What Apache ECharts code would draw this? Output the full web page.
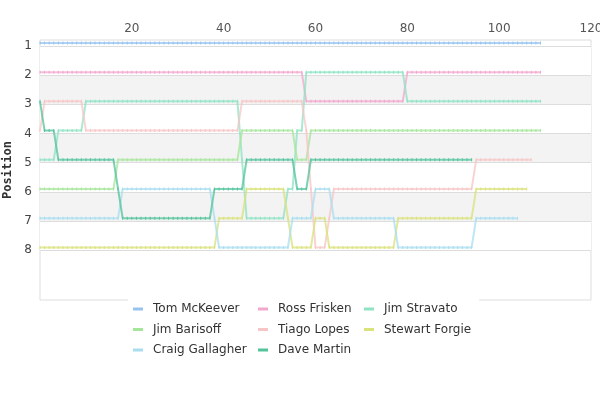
<!DOCTYPE html>
<html>
<head>
<meta charset="utf-8">
<title>Lap chart</title>
<script src="https://cdn.jsdelivr.net/npm/echarts@6/dist/echarts.min.js"></script>
<style>
    html, body { margin: 0; padding: 0; background: #fff; }
    #main { width: 600px; height: 400px; }
</style>
</head>
<body>
<div id="main"></div>
<script>
// drivers in legend order (row by row)
var drivers = ['Tom McKeever', 'Ross Frisken', 'Jim Stravato', 'Jim Barisoff', 'Tiago Lopes', 'Stewart Forgie', 'Craig Gallagher', 'Dave Martin'];
var positionTicks = [1, 2, 3, 4, 5, 6, 7, 8];
var lapTicks = [0, 20, 40, 60, 80, 100, 120];

// race position per lap, index = lap number (from lap 0)
var tomMcKeever = [
    1, 1, 1, 1, 1, 1, 1, 1, 1, 1,
    1, 1, 1, 1, 1, 1, 1, 1, 1, 1,
    1, 1, 1, 1, 1, 1, 1, 1, 1, 1,
    1, 1, 1, 1, 1, 1, 1, 1, 1, 1,
    1, 1, 1, 1, 1, 1, 1, 1, 1, 1,
    1, 1, 1, 1, 1, 1, 1, 1, 1, 1,
    1, 1, 1, 1, 1, 1, 1, 1, 1, 1,
    1, 1, 1, 1, 1, 1, 1, 1, 1, 1,
    1, 1, 1, 1, 1, 1, 1, 1, 1, 1,
    1, 1, 1, 1, 1, 1, 1, 1, 1, 1,
    1, 1, 1, 1, 1, 1, 1, 1, 1, 1
];
var rossFrisken = [
    2, 2, 2, 2, 2, 2, 2, 2, 2, 2,
    2, 2, 2, 2, 2, 2, 2, 2, 2, 2,
    2, 2, 2, 2, 2, 2, 2, 2, 2, 2,
    2, 2, 2, 2, 2, 2, 2, 2, 2, 2,
    2, 2, 2, 2, 2, 2, 2, 2, 2, 2,
    2, 2, 2, 2, 2, 2, 2, 2, 3, 3,
    3, 3, 3, 3, 3, 3, 3, 3, 3, 3,
    3, 3, 3, 3, 3, 3, 3, 3, 3, 3,
    2, 2, 2, 2, 2, 2, 2, 2, 2, 2,
    2, 2, 2, 2, 2, 2, 2, 2, 2, 2,
    2, 2, 2, 2, 2, 2, 2, 2, 2, 2
];
var jimStravato = [
    5, 5, 5, 5, 4, 4, 4, 4, 4, 4,
    3, 3, 3, 3, 3, 3, 3, 3, 3, 3,
    3, 3, 3, 3, 3, 3, 3, 3, 3, 3,
    3, 3, 3, 3, 3, 3, 3, 3, 3, 3,
    3, 3, 3, 3, 5, 7, 7, 7, 7, 7,
    7, 7, 7, 7, 6, 6, 4, 4, 2, 2,
    2, 2, 2, 2, 2, 2, 2, 2, 2, 2,
    2, 2, 2, 2, 2, 2, 2, 2, 2, 2,
    3, 3, 3, 3, 3, 3, 3, 3, 3, 3,
    3, 3, 3, 3, 3, 3, 3, 3, 3, 3,
    3, 3, 3, 3, 3, 3, 3, 3, 3, 3
];
var jimBarisoff = [
    6, 6, 6, 6, 6, 6, 6, 6, 6, 6,
    6, 6, 6, 6, 6, 6, 6, 5, 5, 5,
    5, 5, 5, 5, 5, 5, 5, 5, 5, 5,
    5, 5, 5, 5, 5, 5, 5, 5, 5, 5,
    5, 5, 5, 5, 4, 4, 4, 4, 4, 4,
    4, 4, 4, 4, 4, 4, 5, 5, 5, 4,
    4, 4, 4, 4, 4, 4, 4, 4, 4, 4,
    4, 4, 4, 4, 4, 4, 4, 4, 4, 4,
    4, 4, 4, 4, 4, 4, 4, 4, 4, 4,
    4, 4, 4, 4, 4, 4, 4, 4, 4, 4,
    4, 4, 4, 4, 4, 4, 4, 4, 4, 4
];
var tiagoLopes = [
    4, 3, 3, 3, 3, 3, 3, 3, 3, 3,
    4, 4, 4, 4, 4, 4, 4, 4, 4, 4,
    4, 4, 4, 4, 4, 4, 4, 4, 4, 4,
    4, 4, 4, 4, 4, 4, 4, 4, 4, 4,
    4, 4, 4, 4, 3, 3, 3, 3, 3, 3,
    3, 3, 3, 3, 3, 3, 3, 3, 4, 6,
    8, 8, 8, 7, 6, 6, 6, 6, 6, 6,
    6, 6, 6, 6, 6, 6, 6, 6, 6, 6,
    6, 6, 6, 6, 6, 6, 6, 6, 6, 6,
    6, 6, 6, 6, 6, 5, 5, 5, 5, 5,
    5, 5, 5, 5, 5, 5, 5, 5
];
var stewartForgie = [
    8, 8, 8, 8, 8, 8, 8, 8, 8, 8,
    8, 8, 8, 8, 8, 8, 8, 8, 8, 8,
    8, 8, 8, 8, 8, 8, 8, 8, 8, 8,
    8, 8, 8, 8, 8, 8, 8, 8, 8, 7,
    7, 7, 7, 7, 7, 6, 6, 6, 6, 6,
    6, 6, 6, 6, 7, 8, 8, 8, 8, 8,
    7, 7, 7, 8, 8, 8, 8, 8, 8, 8,
    8, 8, 8, 8, 8, 8, 8, 8, 7, 7,
    7, 7, 7, 7, 7, 7, 7, 7, 7, 7,
    7, 7, 7, 7, 7, 6, 6, 6, 6, 6,
    6, 6, 6, 6, 6, 6, 6
];
var craigGallagher = [
    7, 7, 7, 7, 7, 7, 7, 7, 7, 7,
    7, 7, 7, 7, 7, 7, 7, 7, 6, 6,
    6, 6, 6, 6, 6, 6, 6, 6, 6, 6,
    6, 6, 6, 6, 6, 6, 6, 6, 7, 8,
    8, 8, 8, 8, 8, 8, 8, 8, 8, 8,
    8, 8, 8, 8, 8, 7, 7, 7, 7, 7,
    6, 6, 6, 6, 7, 7, 7, 7, 7, 7,
    7, 7, 7, 7, 7, 7, 7, 7, 8, 8,
    8, 8, 8, 8, 8, 8, 8, 8, 8, 8,
    8, 8, 8, 8, 8, 7, 7, 7, 7, 7,
    7, 7, 7, 7, 7
];
var daveMartin = [
    3, 4, 4, 4, 5, 5, 5, 5, 5, 5,
    5, 5, 5, 5, 5, 5, 5, 6, 7, 7,
    7, 7, 7, 7, 7, 7, 7, 7, 7, 7,
    7, 7, 7, 7, 7, 7, 7, 7, 6, 6,
    6, 6, 6, 6, 6, 5, 5, 5, 5, 5,
    5, 5, 5, 5, 5, 5, 6, 6, 6, 5,
    5, 5, 5, 5, 5, 5, 5, 5, 5, 5,
    5, 5, 5, 5, 5, 5, 5, 5, 5, 5,
    5, 5, 5, 5, 5, 5, 5, 5, 5, 5,
    5, 5, 5, 5, 5
];

var lapChart = (function () {
    var o = {
        init: function () {
            this.positions = [tomMcKeever, rossFrisken, jimStravato, jimBarisoff, tiagoLopes, stewartForgie, craigGallagher, daveMartin];
            this.colors = ['#96c3f0', '#f2a7cd', '#8fe3c3', '#a6e69b', '#f7c5c5', '#d9e27b', '#a9ddf0', '#52c39b'];
            this.draw(document.getElementById('main'));
        },
        getSeries: function () {
            var self = this;
            return drivers.map(function (name, i) {
                return {
                    name: name,
                    type: 'line',
                    yAxisIndex: 1,
                    data: self.positions[i].map(function (pos, lap) {
                        return [lap, pos];
                    }),
                    symbol: 'rect',
                    symbolSize: [1, 3],
                    itemStyle: { color: self.colors[i] },
                    lineStyle: { color: self.colors[i], width: 2, opacity: 0.75 },
                    emphasis: { disabled: true }
                };
            });
        },
        getLegends: function () {
            // one vertical legend per column, backgrounds butting up against each other
            var lefts = [128, 253, 359];
            var rightPads = [11, 11, 8];
            return lefts.map(function (left, col) {
                return {
                    orient: 'vertical',
                    left: left,
                    top: 298,
                    padding: [5, rightPads[col], 5, 5],
                    backgroundColor: '#ffffff',
                    icon: 'rect',
                    itemWidth: 10,
                    itemHeight: 3,
                    itemGap: 8.5,
                    textStyle: { fontFamily: 'DejaVu Sans', fontSize: 12, color: '#333', padding: [0, 0, 0, 5] },
                    data: drivers.filter(function (name, i) {
                        return i % 3 === col;
                    })
                };
            });
        },
        draw: function ($Dom) {
            var myChart = echarts.init($Dom);
            var option = {
                animation: false,
                color: this.colors,
                textStyle: { fontFamily: 'DejaVu Sans' },
                grid: {
                    left: 40,
                    right: 9,
                    top: 40,
                    bottom: 100,
                    containLabel: false,
                    outerBoundsMode: 'none',
                    show: true,
                    borderColor: '#dddddd',
                    borderWidth: 1
                },
                legend: this.getLegends(),
                xAxis: {
                    type: 'value',
                    position: 'top',
                    min: lapTicks[0],
                    max: lapTicks[lapTicks.length - 1],
                    interval: 20,
                    axisLine: { show: false },
                    axisTick: { show: false },
                    splitLine: { show: false },
                    axisLabel: { showMinLabel: false, color: '#555', fontSize: 12, margin: 5 }
                },
                yAxis: [{
                    type: 'value',
                    inverse: true,
                    min: 0.8,
                    max: 9.7,
                    name: 'Position',
                    nameLocation: 'middle',
                    nameGap: 24,
                    nameTextStyle: {
                        fontFamily: 'DejaVu Sans Mono',
                        fontWeight: 'bold',
                        fontSize: 12,
                        color: '#333'
                    },
                    axisLine: { show: false },
                    axisTick: { show: false, customValues: positionTicks },
                    axisLabel: { customValues: positionTicks, color: '#444', fontSize: 12, margin: 8 },
                    splitLine: { show: true, lineStyle: { color: '#dddddd', width: 1 } },
                    splitArea: { show: true, areaStyle: { color: ['#ffffff', '#f3f3f3'] } }
                }, {
                    // series axis, same scale, shifted a little
                    type: 'value',
                    inverse: true,
                    min: 0.9,
                    max: 9.8,
                    show: false
                }],
                series: this.getSeries()
            };
            myChart.setOption(option);
        }
    };

    o.init();
    return o;
}());
</script>
</body>
</html>
